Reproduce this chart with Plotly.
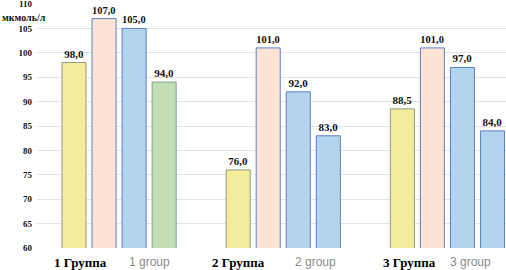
import plotly.graph_objects as go

groups_ru = ["1 Группа", "2 Группа", "3 Группа"]
groups_en = ["1 group", "2 group", "3 group"]
series1 = [98.0, 76.0, 88.5]
series2 = [107.0, 101.0, 101.0]
series3 = [105.0, 92.0, 97.0]
series4 = [94.0, 83.0, 84.0]
y_ticks = [60, 65, 70, 75, 80, 85, 90, 95, 100, 105, 110]
unit_label = "мкмоль/л"

YELLOW = "#F3EC9C"
PEACH = "#FCE3D4"
BLUE = "#B3D4EF"
GREEN = "#C4DEB4"
OUTLINE = "#5C7EC0"

series_colors = [
    [YELLOW] * 3,
    [PEACH] * 3,
    [BLUE] * 3,
    [GREEN, BLUE, BLUE],
]
outline_colors = [
    ["#8E9A7A"] * 3,
    [OUTLINE] * 3,
    [OUTLINE] * 3,
    ["#7FA38A", OUTLINE, OUTLINE],
]

x = list(range(len(groups_ru)))
serif = "Liberation Serif"


def fmt(v):
    return "<b>" + f"{v:.1f}".replace(".", ",") + "</b>"


fig = go.Figure()
for vals, cols, lcols in zip([series1, series2, series3, series4], series_colors, outline_colors):
    fig.add_trace(go.Bar(
        x=x, y=vals,
        marker=dict(color=cols, line=dict(color=lcols, width=1)),
        text=[fmt(v) for v in vals],
        textposition="outside",
        textfont=dict(family=serif, size=11, color="#111111"),
        cliponaxis=False,
        showlegend=False,
        hoverinfo="skip",
    ))

# category labels
ru_shift = [-10, -16, -9]
en_shift = [8, 10, 1]
for i in x:
    fig.add_annotation(x=i, xref="x", y=0, yref="paper", yanchor="top", yshift=-5,
                       xanchor="right", xshift=ru_shift[i], showarrow=False,
                       text=f"<b>{groups_ru[i]}</b>",
                       font=dict(family=serif, size=13, color="#000000"))
    fig.add_annotation(x=i, xref="x", y=0, yref="paper", yanchor="top", yshift=-5,
                       xanchor="left", xshift=en_shift[i], showarrow=False,
                       text=groups_en[i],
                       font=dict(family="Liberation Sans", size=12, color="#8a8a8a"))

fig.add_annotation(x=0, xref="paper", xshift=-37, xanchor="left",
                   y=107.2, yref="y", yanchor="middle", showarrow=False,
                   text=f"<b>{unit_label}</b>",
                   font=dict(family=serif, size=10, color="#111111"))

fig.update_layout(
    width=506, height=270,
    margin=dict(l=37, r=0, t=4, b=22),
    paper_bgcolor="white", plot_bgcolor="white",
    barmode="group", bargap=0.268, bargroupgap=0.2,
    xaxis=dict(range=[-0.5, 2.357], showticklabels=False, showgrid=False,
               zeroline=False, showline=False),
    yaxis=dict(range=[60, 110], tickvals=y_ticks,
               ticktext=[f"<b>{t}</b>" for t in y_ticks],
               tickfont=dict(family=serif, size=9, color="#111111"),
               showgrid=True, gridcolor="#E4E4E4", gridwidth=1,
               zeroline=False, showline=False, ticks="", ticklabelstandoff=4,
               ticklabeloverflow="allow", automargin=False),
)

fig.write_html("out.html", config={"displayModeBar": False},
               post_script="document.body.style.margin='0';document.body.style.overflow='hidden';")
